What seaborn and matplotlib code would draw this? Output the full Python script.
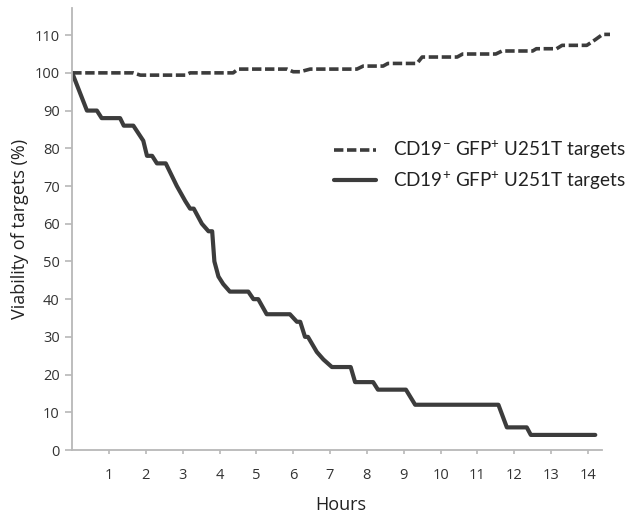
import matplotlib
matplotlib.use("Agg")
import matplotlib.pyplot as plt
import seaborn as sns
import pandas as pd

# Data
neg_hours = [0, 1.66, 1.85, 3.07, 3.2, 4.37, 4.5, 5.83, 6.0, 6.19, 6.46, 7.73, 7.9, 8.44,
             8.57, 9.36, 9.5, 10.45, 10.6, 11.5, 11.67, 12.5, 12.6, 13.15, 13.3, 13.97,
             14.2, 14.4, 14.6]
neg_viability = [100, 100, 99.4, 99.4, 100, 100, 101, 101, 100.3, 100.3, 101, 101, 101.8, 101.8,
                 102.5, 102.5, 104.2, 104.2, 105, 105, 105.8, 105.8, 106.4, 106.4, 107.3, 107.3,
                 108.8, 110.2, 110.2]

pos_hours = [0, 0.4, 0.67, 0.8, 1.3, 1.4, 1.66, 1.93, 2.03, 2.17, 2.3, 2.54, 2.84, 3.07, 3.2,
             3.3, 3.52, 3.7, 3.8, 3.86, 3.97, 4.1, 4.28, 4.78, 4.92, 5.05, 5.28, 5.91, 6.1,
             6.19, 6.32, 6.4, 6.64, 6.82, 7.05, 7.56, 7.68, 8.17, 8.3, 9.06, 9.31, 11.57,
             11.8, 12.34, 12.45, 14.2]
pos_viability = [100, 90, 90, 88, 88, 86, 86, 82, 78, 78, 76, 76, 70, 66, 64,
                 64, 60, 58, 58, 50, 46, 44, 42, 42, 40, 40, 36, 36, 34,
                 34, 30, 30, 26, 24, 22, 22, 18, 18, 16, 16, 12, 12,
                 6, 6, 4, 4]

series_labels = ["CD19$^{-}$ GFP$^{+}$ U251T targets", "CD19$^{+}$ GFP$^{+}$ U251T targets"]
x_ticks = list(range(1, 15))
y_ticks = list(range(0, 111, 10))

sns.set_style("white")
plt.rcParams["font.family"] = ["Open Sans", "DejaVu Sans"]
plt.rcParams["mathtext.fontset"] = "custom"
plt.rcParams["mathtext.rm"] = "Lato"
plt.rcParams["mathtext.it"] = "Lato"

df_neg = pd.DataFrame({"Hours": neg_hours, "Viability": neg_viability})
df_pos = pd.DataFrame({"Hours": pos_hours, "Viability": pos_viability})

fig = plt.figure(figsize=(6.29, 5.16), dpi=100)
ax = fig.add_axes([72.2 / 629, 1 - 450 / 516, (610 - 72.2) / 629, 442 / 516])

line_color = "#3c3c3c"
sns.lineplot(data=df_neg, x="Hours", y="Viability", ax=ax, sort=False, estimator=None,
             color=line_color, linewidth=2.6, label=series_labels[0])
ax.lines[-1].set_dashes((2.6, 1.0))
ax.lines[-1].set_clip_on(False)
sns.lineplot(data=df_pos, x="Hours", y="Viability", ax=ax, sort=False, estimator=None,
             color=line_color, linewidth=3.0, label=series_labels[1])

ax.set_xlim(0, 14.6)
ax.set_ylim(0, 117.2)
ax.set_xticks(x_ticks)
ax.set_yticks(y_ticks)

for s in ["top", "right"]:
    ax.spines[s].set_visible(False)
for s in ["left", "bottom"]:
    ax.spines[s].set_color("#b8b8b8")
    ax.spines[s].set_linewidth(1.3)
ax.spines["bottom"].set_bounds(0, 14.38)

ax.tick_params(axis="y", direction="out", length=5, width=1.2, color="#b8b8b8",
               labelsize=10.5, labelcolor="#333333", pad=4, left=True)
ax.tick_params(axis="x", direction="out", length=3, width=1.2, color="#b8b8b8",
               labelsize=10.5, labelcolor="#333333", pad=10, bottom=True)

ax.set_xlabel("Hours", fontsize=13, color="#222222", labelpad=9)
ax.set_ylabel("Viability of targets (%)", fontsize=13, color="#222222", labelpad=4)

leg = ax.legend(loc="upper left", bbox_to_anchor=((317 - 72.2) / (610 - 72.2), 1 - 114 / 442),
                frameon=False, prop={"family": "Lato", "size": 13.6}, handlelength=2.2,
                handletextpad=0.9, labelspacing=0.42)
for t in leg.get_texts():
    t.set_color("#222222")

fig.savefig("out.png", dpi=100)
